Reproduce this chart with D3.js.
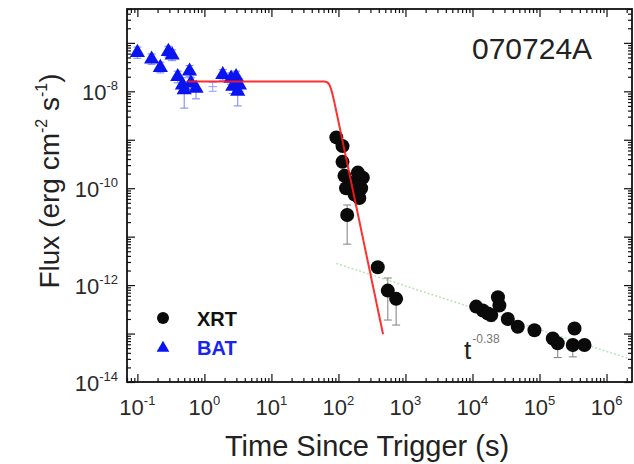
<!DOCTYPE html>
<html><head><meta charset="utf-8">
<script src="https://cdn.jsdelivr.net/npm/d3@7"></script>
<style>body{margin:0;background:#fff}text{font-family:"Liberation Sans",Arial,sans-serif}</style>
</head><body>
<svg id="c" width="634" height="464"></svg>
<script>
// ---- data ----
const xLabelExps = [-1, 0, 1, 2, 3, 4, 5, 6];
const yLabelExps = [-14, -12, -10, -8];

const batTime = [0.10, 0.163, 0.22, 0.29, 0.33, 0.40, 0.47, 0.50, 0.60, 0.63, 0.75, 1.88, 2.5, 2.97, 2.65, 3.33, 3.14];
const batFlux = [6.3e-8, 4.6e-8, 3.1e-8, 6.6e-8, 5.6e-8, 2.0e-8, 1.35e-8, 1.07e-8, 2.6e-8, 1.48e-8, 1.15e-8, 2.2e-8, 1.86e-8, 2.0e-8, 1.26e-8, 1.35e-8, 1.0e-8];
const batLo   = [4.8e-8, 3.6e-8, 2.4e-8, 5.1e-8, 4.3e-8, 1.5e-8, 9.5e-9, 4.5e-9, 2.0e-8, 1.1e-8, 7.0e-9, 1.7e-8, 1.4e-8, 1.5e-8, 9.0e-9, 1.0e-8, 5.0e-9];
const batHi   = [8.2e-8, 5.9e-8, 4.0e-8, 8.5e-8, 7.2e-8, 2.6e-8, 1.9e-8, 1.6e-8, 3.4e-8, 1.9e-8, 1.6e-8, 2.8e-8, 2.4e-8, 2.6e-8, 1.7e-8, 1.8e-8, 1.4e-8];
const batTLo  = [0.09, 0.15, 0.20, 0.27, 0.31, 0.37, 0.44, 0.47, 0.56, 0.59, 0.70, 1.75, 2.35, 2.8, 2.5, 3.15, 2.95];
const batTHi  = [0.11, 0.175, 0.24, 0.31, 0.35, 0.43, 0.50, 0.53, 0.64, 0.67, 0.80, 2.0, 2.65, 3.15, 2.8, 3.5, 3.35];
const batGapTime = [1.33];
const batGapFlux = [1.25e-8];
const batGapLo = [1.0e-8];
const batGapHi = [1.55e-8];
const batGapTLo = [1.15];
const batGapTHi = [1.55];

const xrtTime = [93, 115, 115, 123, 130, 195, 231, 218, 174, 205, 155, 135, 386, 545, 726, 11350, 14260, 17000, 19000, 24000, 25200, 33650, 47400, 84100, 158000, 187000, 314000, 333000, 469000];
const xrtFlux = [1.12e-9, 7.4e-10, 3.5e-10, 1.8e-10, 1.0e-10, 2.1e-10, 1.65e-10, 1.0e-10, 7.4e-11, 6.3e-11, 1.28e-10, 2.8e-11, 2.34e-12, 7.7e-13, 5.2e-13, 3.6e-13, 3.0e-13, 2.6e-13, 2.4e-13, 5.6e-13, 3.8e-13, 2.0e-13, 1.38e-13, 1.17e-13, 7.9e-14, 6.3e-14, 5.8e-14, 1.27e-13, 5.8e-14];
const xrtLo   = [0.95e-9, 6.3e-10, 2.9e-10, 1.5e-10, 8.3e-11, 1.8e-10, 1.4e-10, 8.5e-11, 6.0e-11, 5.0e-11, 1.05e-10, 7.0e-12, 1.9e-12, 1.9e-13, 1.5e-13, 3.0e-13, 2.5e-13, 2.1e-13, 1.8e-13, 4.6e-13, 3.1e-13, 1.65e-13, 1.15e-13, 0.97e-13, 6.5e-14, 3.2e-14, 3.3e-14, 1.0e-13, 4.6e-14];
const xrtHi   = [1.3e-9, 8.6e-10, 4.1e-10, 2.1e-10, 1.2e-10, 2.45e-10, 1.9e-10, 1.2e-10, 8.8e-11, 7.6e-11, 1.5e-10, 4.5e-11, 2.8e-12, 1.4e-12, 6.6e-13, 4.2e-13, 3.5e-13, 3.1e-13, 2.9e-13, 6.6e-13, 4.5e-13, 2.4e-13, 1.6e-13, 1.37e-13, 9.3e-14, 7.6e-14, 7.0e-14, 1.5e-13, 7.0e-14];

// fitted models (parameters)
const redFit = {norm: 1.6e-8, tBreak: 75, idx1: 0, idx2: 6.6, smooth: 3, tStart: 0.56, tEnd: 463};
const greenFit = {norm: 2.15e-11, idx: 0.45, tStart: 93, tEnd: 2.2e6};

const title = "070724A";
const xTitle = "Time Since Trigger (s)";

// ---- chart ----
const L = 127, R = 632, T = 9, B = 382;
const svg = d3.select("#c");
const x = d3.scaleLog().domain([0.07, 2.4e6]).range([L, R]);
const y = d3.scaleLog().domain([1e-14, 5e-7]).range([B, T]);

function logTicks(sc) {
  const [a, b] = sc.domain();
  const out = [];
  for (let e = Math.floor(Math.log10(a)); e <= Math.ceil(Math.log10(b)); e++)
    for (let m = 1; m <= 9; m++) {
      const v = m * Math.pow(10, e);
      if (v >= a * 0.9999 && v <= b * 1.0001) out.push({v, major: m === 1});
    }
  return out;
}
const xt = logTicks(x), yt = logTicks(y);
const xMaj = xt.filter(d => d.major).map(d => d.v), xMin = xt.filter(d => !d.major).map(d => d.v);
const yMaj = yt.filter(d => d.major).map(d => d.v), yMin = yt.filter(d => !d.major).map(d => d.v);

function axisG(gen, tr) {
  const g = svg.append("g").attr("transform", tr).call(gen);
  g.select(".domain").remove();
  g.selectAll("line").attr("stroke", "#111").attr("stroke-width", 1.2);
  return g;
}
[[xMaj, 8], [xMin, 4]].forEach(([vals, s]) => {
  axisG(d3.axisBottom(x).tickValues(vals).tickSizeInner(-s).tickSizeOuter(0).tickFormat(""), `translate(0,${B})`);
  axisG(d3.axisTop(x).tickValues(vals).tickSizeInner(-s).tickSizeOuter(0).tickFormat(""), `translate(0,${T})`);
});
[[yMaj, 8], [yMin, 4]].forEach(([vals, s]) => {
  axisG(d3.axisLeft(y).tickValues(vals).tickSizeInner(-s).tickSizeOuter(0).tickFormat(""), `translate(${L},0)`);
  axisG(d3.axisRight(y).tickValues(vals).tickSizeInner(-s).tickSizeOuter(0).tickFormat(""), `translate(${R},0)`);
});
svg.append("rect").attr("x", L).attr("y", T).attr("width", R - L).attr("height", B - T)
  .attr("fill", "none").attr("stroke", "#111").attr("stroke-width", 1.8);

// tick labels
xLabelExps.forEach(e => {
  const t = svg.append("text").attr("x", x(Math.pow(10, e))).attr("y", B + 33)
    .attr("text-anchor", "middle").attr("fill", "#2a2a2a").attr("font-size", 22);
  t.append("tspan").text("10");
  t.append("tspan").attr("font-size", 13).attr("dy", -10).text(e);
});
yLabelExps.forEach(e => {
  const t = svg.append("text").attr("x", L - 9).attr("y", y(Math.pow(10, e)) + 9)
    .attr("text-anchor", "end").attr("fill", "#2a2a2a").attr("font-size", 22);
  t.append("tspan").text("10");
  t.append("tspan").attr("font-size", 13).attr("dy", -10).text(e);
});

// axis titles
svg.append("text").attr("x", 367).attr("y", 456).attr("text-anchor", "middle")
  .attr("font-size", 29).attr("fill", "#222").text(xTitle);
const yl = svg.append("text").attr("transform", "translate(59,181) rotate(-90)")
  .attr("text-anchor", "middle").attr("font-size", 28).attr("fill", "#222");
yl.append("tspan").text("Flux (erg cm");
yl.append("tspan").attr("font-size", 16).attr("dy", -12).text("-2");
yl.append("tspan").attr("dy", 12).text(" s");
yl.append("tspan").attr("font-size", 16).attr("dy", -12).text("-1");
yl.append("tspan").attr("dy", 12).text(")");

svg.append("text").attr("x", 472).attr("y", 59).attr("font-size", 30).attr("fill", "#222").text(title);

// green dotted fit (behind)
const gT = d3.range(0, 51).map(i => Math.pow(10, Math.log10(greenFit.tStart) + i / 50 * (Math.log10(greenFit.tEnd) - Math.log10(greenFit.tStart))));
svg.append("path").attr("d", d3.line().x(t => x(t)).y(t => y(greenFit.norm * Math.pow(t, -greenFit.idx)))(gT))
  .attr("fill", "none").attr("stroke", "#b5e6b5").attr("stroke-width", 1.5).attr("stroke-dasharray", "2,2");

// error bars
function errBars(times, flux, lo, hi, tlo, thi, color) {
  const g = svg.append("g").attr("stroke", color).attr("stroke-width", 1.1).attr("fill", "none");
  times.forEach((t, i) => {
    const cx = x(t);
    g.append("line").attr("x1", cx).attr("x2", cx).attr("y1", y(lo[i])).attr("y2", y(hi[i]));
    g.append("line").attr("x1", cx - 4).attr("x2", cx + 4).attr("y1", y(lo[i])).attr("y2", y(lo[i]));
    g.append("line").attr("x1", cx - 4).attr("x2", cx + 4).attr("y1", y(hi[i])).attr("y2", y(hi[i]));
    if (tlo) g.append("line").attr("x1", x(tlo[i])).attr("x2", x(thi[i])).attr("y1", y(flux[i])).attr("y2", y(flux[i]));
  });
}
errBars(batTime, batFlux, batLo, batHi, batTLo, batTHi, "#7f8cff");
errBars(batGapTime, batGapFlux, batGapLo, batGapHi, batGapTLo, batGapTHi, "#9aa4ff");
errBars(xrtTime, xrtFlux, xrtLo, xrtHi, null, null, "#8a8a8a");

// markers
const tri = d3.symbol().type(d3.symbolTriangle).size(100);
svg.append("g").selectAll("path").data(batTime).join("path")
  .attr("transform", (t, i) => `translate(${x(t)},${y(batFlux[i])})`).attr("d", tri).attr("fill", "#0a14f0");
svg.append("g").selectAll("circle").data(xrtTime).join("circle")
  .attr("cx", t => x(t)).attr("cy", (t, i) => y(xrtFlux[i])).attr("r", 7).attr("fill", "#0a0a0a");

// red fit (on top)
const rT = d3.range(0, 301).map(i => Math.pow(10, Math.log10(redFit.tStart) + i / 300 * (Math.log10(redFit.tEnd) - Math.log10(redFit.tStart))));
const redF = t => { const r = t / redFit.tBreak, w = redFit.smooth;
  return redFit.norm * Math.pow(Math.pow(r, redFit.idx1 * w) + Math.pow(r, redFit.idx2 * w), -1 / w); };
svg.append("path").attr("d", d3.line().x(t => x(t)).y(t => y(redF(t)))(rT))
  .attr("fill", "none").attr("stroke", "#ff1a1a").attr("stroke-width", 2).attr("stroke-opacity", 0.9);

// slope annotation
const ann = svg.append("text").attr("x", 464).attr("y", 359).attr("fill", "#222").attr("font-size", 26);
ann.append("tspan").text("t");
ann.append("tspan").attr("font-size", 12).attr("fill", "#777").attr("dy", -16).attr("dx", 1).text("-0.38");

// legend
svg.append("circle").attr("cx", 163).attr("cy", 318).attr("r", 6).attr("fill", "#0a0a0a");
svg.append("text").attr("x", 197).attr("y", 326).attr("font-size", 20).attr("font-weight", "bold").attr("fill", "#111").text("XRT");
svg.append("path").attr("transform", "translate(163,348)").attr("d", d3.symbol().type(d3.symbolTriangle).size(70)).attr("fill", "#0a14f0");
svg.append("text").attr("x", 197).attr("y", 355).attr("font-size", 20).attr("font-weight", "bold").attr("fill", "#1a24f0").text("BAT");
</script>
</body></html>
